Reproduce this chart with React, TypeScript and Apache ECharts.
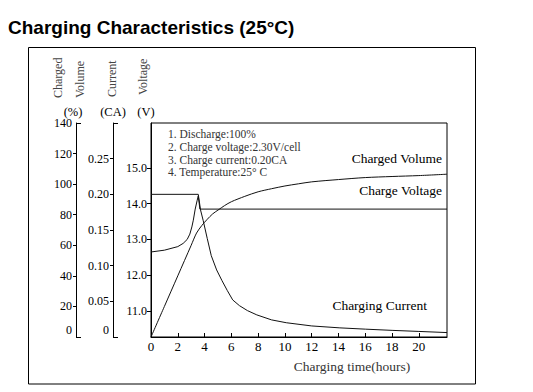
import React, { useEffect, useRef } from "react";
import * as echarts from "echarts";

// ---- data ----
const hourTicks = [0, 2, 4, 6, 8, 10, 12, 14, 16, 18, 20];
const volumeTicks = [20, 40, 60, 80, 100, 120];
const volumeLabels = [0, 20, 40, 60, 80, 100, 120, 140];
const currentTicks = [0.05, 0.1, 0.15, 0.2, 0.25];
const currentLabels = [0, 0.05, 0.1, 0.15, 0.2, 0.25];
const voltageTicks = [11, 12, 13, 14, 15];

const volumeTime = [0, 1, 2, 3, 3.4, 3.8, 4.2, 4.6, 5, 5.5, 6, 7, 8, 9, 10, 11, 12, 14, 16, 18, 20, 22.1];
const volumePct = [0, 20, 40, 60, 68, 73, 77, 80.5, 83, 86, 88.5, 92, 95, 97, 98.8, 100.2, 101.5, 103, 104.3, 105, 105.6, 106.5];

const voltageTime = [0, 1, 2, 2.4, 2.7, 2.9, 3.05, 3.16, 3.3, 3.45, 3.53, 3.65, 22.1];
const voltageV = [12.65, 12.7, 12.8, 12.89, 13.0, 13.15, 13.35, 13.54, 13.85, 14.1, 14.22, 13.85, 13.85];

const currentTime = [0, 3.53, 3.7, 3.9, 4.2, 4.5, 4.9, 5.3, 5.7, 6.1, 6.6, 7.2, 7.9, 9, 10.1, 12, 14.1, 16, 18, 20, 22.1];
const currentCA = [0.2, 0.2, 0.178, 0.163, 0.138, 0.114, 0.094, 0.079, 0.065, 0.052, 0.044, 0.037, 0.031, 0.024, 0.02, 0.0155, 0.0128, 0.011, 0.0093, 0.0078, 0.0062];

const notes = [
  "1. Discharge:100%",
  "2. Charge voltage:2.30V/cell",
  "3. Charge current:0.20CA",
  "4. Temperature:25\u00b0 C",
];

const SERIF = "Liberation Serif";
const SERIF_STACK = "'Liberation Serif', serif";

const zip = (xs: number[], ys: number[]) => xs.map((x, i) => [x, ys[i]]);

export default function App() {
  const ref = useRef<HTMLDivElement>(null);
  useEffect(() => {
    if (!ref.current) return;
    const chart = echarts.init(ref.current, undefined, { renderer: "svg" });
    const black = { color: "#000", width: 1 };
    const labelBase = { color: "#000", fontFamily: SERIF_STACK, fontSize: 12 };
    const zeroRich = { z: { ...labelBase, padding: [0, 0, 14, 0] } };
    const noteTexts = notes.map((t, i) => ({
      type: "text",
      x: 168,
      y: 134 + i * 12.8,
      style: { text: t, fill: "#333", font: `11.5px "${SERIF}", serif`, textAlign: "left", textVerticalAlign: "middle" },
    }));
    const vHeader = (text: string, x: number, y: number) => ({
      type: "text",
      x,
      y,
      rotation: Math.PI / 2,
      style: { text, fill: "#444", font: `12px "${SERIF}", serif`, textAlign: "left", textVerticalAlign: "middle" },
    });
    const plain = (text: string, x: number, y: number, align: string, size: number, fill = "#000") => ({
      type: "text",
      x,
      y,
      style: { text, fill, font: `${size}px "${SERIF}", serif`, textAlign: align, textVerticalAlign: "middle" },
    });
    const leftAxis = (offset: number, min: number, max: number, extra: any) => ({
      type: "value",
      position: "left",
      offset,
      min,
      max,
      splitLine: { show: false },
      ...extra,
    });
    const option: any = {
      animation: false,
      grid: {
        left: 151,
        top: 123,
        right: 86,
        bottom: 55,
        show: true,
        borderColor: "#000",
        borderWidth: 1,
        containLabel: false,
        outerBoundsMode: "none",
      },
      xAxis: {
        type: "value",
        min: 0,
        max: 22.1,
        axisLine: { show: true, onZero: false, lineStyle: black },
        axisTick: { show: true, inside: true, length: 4, customValues: hourTicks, lineStyle: black },
        axisLabel: { customValues: hourTicks, margin: 3, ...labelBase, fontSize: 13 },
        splitLine: { show: false },
      },
      yAxis: [
        leftAxis(75, 0, 140, {
          axisLine: { show: true, onZero: false, lineStyle: black },
          axisTick: { show: true, inside: false, length: 3, customValues: volumeTicks, lineStyle: black },
          axisLabel: {
            customValues: volumeLabels,
            margin: 4,
            ...labelBase,
            formatter: (v: number) => (v === 0 ? "{z|0}" : String(v)),
            rich: zeroRich,
          },
        }),
        leftAxis(38, 0, 0.3, {
          axisLine: { show: true, onZero: false, lineStyle: black },
          axisTick: { show: true, inside: false, length: 3, customValues: currentTicks, lineStyle: black },
          axisLabel: {
            customValues: currentLabels,
            margin: 4,
            ...labelBase,
            formatter: (v: number) => (v === 0 ? "{z|0}" : v.toFixed(2)),
            rich: zeroRich,
          },
        }),
        leftAxis(0, 10.27, 16.26, {
          axisLine: { show: true, onZero: false, lineStyle: black },
          axisTick: { show: true, inside: false, length: 4, customValues: voltageTicks, lineStyle: black },
          axisLabel: {
            customValues: voltageTicks,
            margin: 4,
            ...labelBase,
            formatter: (v: number) => v.toFixed(1),
          },
        }),
        leftAxis(75, 0, 140, {
          axisLine: { show: false, onZero: false },
          axisTick: { show: true, inside: true, length: 5, customValues: [0, 140], lineStyle: black },
          axisLabel: { show: false },
        }),
        leftAxis(38, 0, 0.3, {
          axisLine: { show: false, onZero: false },
          axisTick: { show: true, inside: true, length: 5, customValues: [0, 0.3], lineStyle: black },
          axisLabel: { show: false },
        }),
      ],
      series: [
        {
          name: "Charged Volume",
          type: "line",
          yAxisIndex: 0,
          data: zip(volumeTime, volumePct),
          showSymbol: false,
          smooth: 0.3,
          lineStyle: { color: "#111", width: 1 },
        },
        {
          name: "Charging Current",
          type: "line",
          yAxisIndex: 1,
          data: zip(currentTime, currentCA),
          showSymbol: false,
          lineStyle: { color: "#111", width: 1 },
        },
        {
          name: "Charge Voltage",
          type: "line",
          yAxisIndex: 2,
          data: zip(voltageTime, voltageV),
          showSymbol: false,
          lineStyle: { color: "#111", width: 1 },
        },
      ],
      graphic: [
        {
          type: "rect",
          shape: { x: 28.5, y: 47.5, width: 447, height: 336.5 },
          style: { fill: "none", stroke: "#000", lineWidth: 1 },
        },
        {
          type: "text",
          x: 8,
          y: 27,
          style: {
            text: "Charging Characteristics (25\u00b0C)",
            fill: "#000",
            font: 'bold 19px "Liberation Sans", sans-serif',
            textAlign: "left",
            textVerticalAlign: "middle",
          },
        },
        vHeader("Charged", 58, 98),
        vHeader("Volume", 80, 98),
        vHeader("Current", 112, 97),
        vHeader("Voltage", 143, 95),
        plain("(%)", 73, 111.5, "center", 12.5),
        plain("(CA)", 113, 111.5, "center", 12.5),
        plain("(V)", 146, 111.5, "center", 12.5),
        ...noteTexts,
        plain("Charged Volume", 442, 158, "right", 13.5),
        plain("Charge Voltage", 442, 190.5, "right", 13.5),
        plain("Charging Current", 427, 305, "right", 13.5),
        plain("Charging time(hours)", 352, 366, "center", 13.5, "#333"),
      ],
    };
    chart.setOption(option);
    return () => chart.dispose();
  }, []);
  return (
    <div
      ref={ref}
      style={{ position: "fixed", left: 0, top: 0, width: 533, height: 392, background: "#fff" }}
    />
  );
}
